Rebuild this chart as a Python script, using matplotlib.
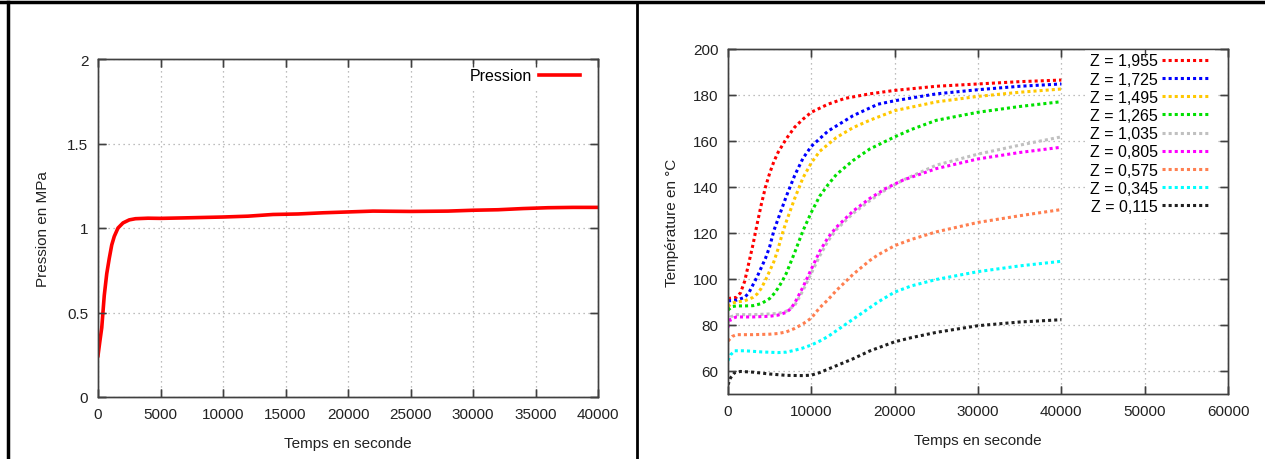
import matplotlib
matplotlib.use("Agg")
import matplotlib.pyplot as plt
from matplotlib.lines import Line2D

plt.rcParams['font.family'] = ['Liberation Sans', 'DejaVu Sans']

# Pression (MPa) en fonction du temps (s)
t_p = [0, 150, 300, 500, 700, 900, 1100, 1300, 1600, 2000, 2500, 3000, 4000,
       5000, 7000, 10000, 12000, 14000, 16000, 18000, 20000, 22000, 25000,
       28000, 30000, 32000, 34000, 36000, 38000, 40000]
pression = [0.245, 0.33, 0.41, 0.6, 0.73, 0.82, 0.9, 0.95, 1.0, 1.03, 1.048,
            1.055, 1.058, 1.057, 1.06, 1.065, 1.07, 1.08, 1.083, 1.09, 1.095,
            1.1, 1.098, 1.1, 1.105, 1.108, 1.115, 1.12, 1.122, 1.122]

# Temperatures (°C) pour chaque cote Z
z_labels = ["Z = 1,955", "Z = 1,725", "Z = 1,495", "Z = 1,265", "Z = 1,035",
            "Z = 0,805", "Z = 0,575", "Z = 0,345", "Z = 0,115"]
couleurs = ["#ff0000", "#0000ff", "#ffc800", "#00e000", "#c0c0c0",
            "#ff00ff", "#ff7f50", "#00ffff", "#202020"]

t_z1955 = [0, 1000, 1500, 2000, 2500, 3000, 3500, 4000, 4500, 5000, 5500, 6000,
           7000, 8000, 9000, 10000, 12000, 14000, 17000, 20000, 25000, 30000,
           35000, 40000]
T_z1955 = [91.5, 92, 94, 99, 107, 115, 124, 132.5, 140, 146, 151, 155, 161,
           166, 169.5, 172.5, 176, 178.5, 180.5, 182, 183.8, 184.8, 185.8, 186.5]

t_z1725 = [0, 1000, 2000, 2500, 3000, 3500, 4000, 4500, 5000, 5500, 6000, 7000,
           8000, 9000, 10000, 12000, 15000, 18000, 20000, 25000, 30000, 35000,
           40000]
T_z1725 = [90.5, 90.8, 92, 94, 97.5, 101, 105, 109, 114, 121, 126, 136, 145,
           152.5, 157.7, 164.3, 171, 176, 177.5, 180.5, 182.3, 183.8, 184.8]

t_z1495 = [0, 500, 1000, 2000, 3000, 3500, 4000, 4500, 5000, 5500, 6000, 6500,
           7000, 8000, 9000, 10000, 11000, 13000, 15000, 17000, 20000, 25000,
           30000, 35000, 40000]
T_z1495 = [88, 89.5, 90, 90.5, 92, 93.5, 96, 99.5, 103.5, 107.5, 113, 119.5,
           125, 135, 144, 150.5, 155.5, 161.5, 165.8, 169, 173.2, 177, 179.4,
           181.2, 182.6]

t_z1265 = [0, 500, 1000, 2000, 3000, 4000, 5000, 5500, 6000, 6500, 7000, 7500,
           8000, 9000, 10000, 11000, 12000, 13000, 15000, 17000, 20000, 22000,
           25000, 30000, 35000, 40000]
T_z1265 = [86.5, 88, 88.3, 88.3, 88.4, 89.3, 91.5, 93.5, 96, 99, 102.5, 107,
           111.5, 121, 129, 136, 141, 145.4, 151.5, 156.5, 161.8, 165, 169,
           172.5, 175, 177.1]

t_z1035 = [0, 300, 1000, 3000, 5000, 6000, 7000, 8000, 9000, 10000, 11000,
           12000, 13000, 15000, 17000, 19000, 21000, 25000, 30000, 35000, 40000]
T_z1035 = [81, 83.5, 84.5, 84.5, 84.8, 85, 86, 88.5, 95, 102.5, 110, 116.5,
           121.5, 128.5, 134, 139, 143, 149.5, 154.3, 158.2, 161.8]

t_z0805 = [0, 300, 1000, 3000, 5000, 6000, 7000, 7500, 8000, 9000, 10000, 11000,
           12000, 13000, 15000, 17000, 19000, 21000, 25000, 30000, 35000, 40000]
T_z0805 = [79, 82.5, 83.5, 83.5, 83.8, 84.3, 85.5, 87, 89.5, 96.5, 104.3, 112,
           118, 122.5, 129.5, 135, 139.5, 143, 148, 152.2, 155, 157.3]

t_z0575 = [0, 500, 1000, 3000, 5000, 6000, 7000, 8000, 9000, 10000, 11000,
           12000, 13000, 14000, 15000, 17000, 18000, 20000, 22000, 25000, 30000,
           35000, 40000]
T_z0575 = [73, 75, 75.8, 75.8, 76, 76.3, 77, 78.5, 80.5, 83, 87.5, 91, 95,
           98.5, 102, 108, 110.5, 114.5, 117.2, 120.5, 124.6, 127.5, 130.2]

t_z0345 = [0, 300, 800, 2000, 4000, 6000, 7000, 8000, 9000, 10000, 11000, 12000,
           13000, 14000, 15000, 16000, 18000, 20000, 22000, 25000, 30000, 35000,
           40000]
T_z0345 = [64.5, 67, 68.8, 68.8, 68.3, 68, 68.2, 69, 70, 71.3, 73, 75, 77.5, 80,
           82.5, 85, 90, 94.3, 97, 99.8, 103.2, 105.7, 107.7]

t_z0115 = [0, 300, 800, 1500, 3000, 5000, 7000, 9000, 10000, 11000, 12000,
           13000, 15000, 17000, 20000, 22000, 25000, 30000, 35000, 40000]
T_z0115 = [54, 57, 59.3, 59.8, 59.5, 58.7, 58.1, 58, 58.2, 59.3, 60.8, 62.3,
           65.3, 68.7, 72.7, 74.5, 76.8, 79.7, 81.3, 82.3]

series_t = [t_z1955, t_z1725, t_z1495, t_z1265, t_z1035, t_z0805, t_z0575,
            t_z0345, t_z0115]
series_T = [T_z1955, T_z1725, T_z1495, T_z1265, T_z1035, T_z0805, T_z0575,
            T_z0345, T_z0115]

W, H = 1265, 460
fs = 11
fig = plt.figure(figsize=(W / 100, H / 100), dpi=100)

def style_axes(ax):
    for s in ax.spines.values():
        s.set_color("#404040")
        s.set_linewidth(1.0)
    ax.tick_params(direction="in", length=6, width=1, color="#404040",
                   top=True, right=True, labelsize=fs, labelcolor="#222222",
                   pad=7)
    ax.grid(True, color="#a8a8a8", linestyle=(0, (1, 3)), linewidth=0.9)
    ax.set_axisbelow(True)

def overlay_ticks(ax, pos):
    # axes transparent par-dessus pour garder cadre et graduations au-dessus de la legende
    ov = fig.add_axes(pos, sharex=ax, sharey=ax, zorder=ax.get_zorder() + 1)
    ov.patch.set_visible(False)
    for s in ov.spines.values():
        s.set_color("#404040")
        s.set_linewidth(1.0)
    ov.tick_params(direction="in", length=6, width=1, color="#404040",
                   top=True, right=True, labelbottom=False, labelleft=False)
    ov.grid(False)
    return ov

# Graphe de gauche : pression
pos1 = [98 / W, 1 - 398 / H, 500 / W, 338 / H]
ax1 = fig.add_axes(pos1)
ax1.plot(t_p, pression, color="#ff0000", lw=2.6, label="Pression")
ax1.set_xlim(0, 40000)
ax1.set_ylim(0, 2)
ax1.set_xticks(range(0, 40001, 5000))
ax1.set_yticks([0, 0.5, 1, 1.5, 2])
ax1.set_yticklabels(["0", "0.5", "1", "1.5", "2"])
style_axes(ax1)
ax1.set_xlabel("Temps en seconde", fontsize=fs, color="#222222", labelpad=11)
ax1.set_ylabel("Pression en MPa", fontsize=fs, color="#222222", labelpad=12)
leg1 = ax1.legend(loc="upper right", bbox_to_anchor=(0.99, 1.01),
                  markerfirst=False, frameon=True, fancybox=False,
                  edgecolor="none", facecolor="white", framealpha=1,
                  fontsize=11.5, handlelength=2.6, handletextpad=0.4,
                  borderpad=0.3)
overlay_ticks(ax1, pos1)

# Graphe de droite : temperatures
pos2 = [728 / W, 1 - 395 / H, 500 / W, 345 / H]
ax2 = fig.add_axes(pos2)
for t, T, lab, c in zip(series_t, series_T, z_labels, couleurs):
    ax2.plot(t, T, color=c, lw=2.2, linestyle=(0, (1, 1)), label=lab)
ax2.set_xlim(0, 60000)
ax2.set_ylim(50, 200)
ax2.set_xticks(range(0, 60001, 10000))
ax2.set_yticks(range(60, 201, 20))
style_axes(ax2)
ax2.set_xlabel("Temps en seconde", fontsize=fs, color="#222222", labelpad=11)
ax2.set_ylabel("Température en °C", fontsize=fs, color="#222222", labelpad=10)
leg2 = ax2.legend(loc="upper right", bbox_to_anchor=(0.99, 1.024),
                  markerfirst=False, frameon=True, fancybox=False,
                  edgecolor="none", facecolor="white", framealpha=1,
                  fontsize=11.5, handlelength=3.0, handletextpad=0.3,
                  labelspacing=0.2, borderpad=0.3)
overlay_ticks(ax2, pos2)

# Cadre du document
fig.add_artist(Line2D([0, 1], [1 - 3 / H, 1 - 3 / H], color="black", lw=2.5,
                      transform=fig.transFigure))
fig.add_artist(Line2D([8 / W, 8 / W], [0, 1 - 3 / H], color="black", lw=2.5,
                      transform=fig.transFigure))
fig.add_artist(Line2D([637 / W, 637 / W], [0, 1 - 3 / H], color="black", lw=2,
                      transform=fig.transFigure))

fig.savefig("out.png", dpi=100)
